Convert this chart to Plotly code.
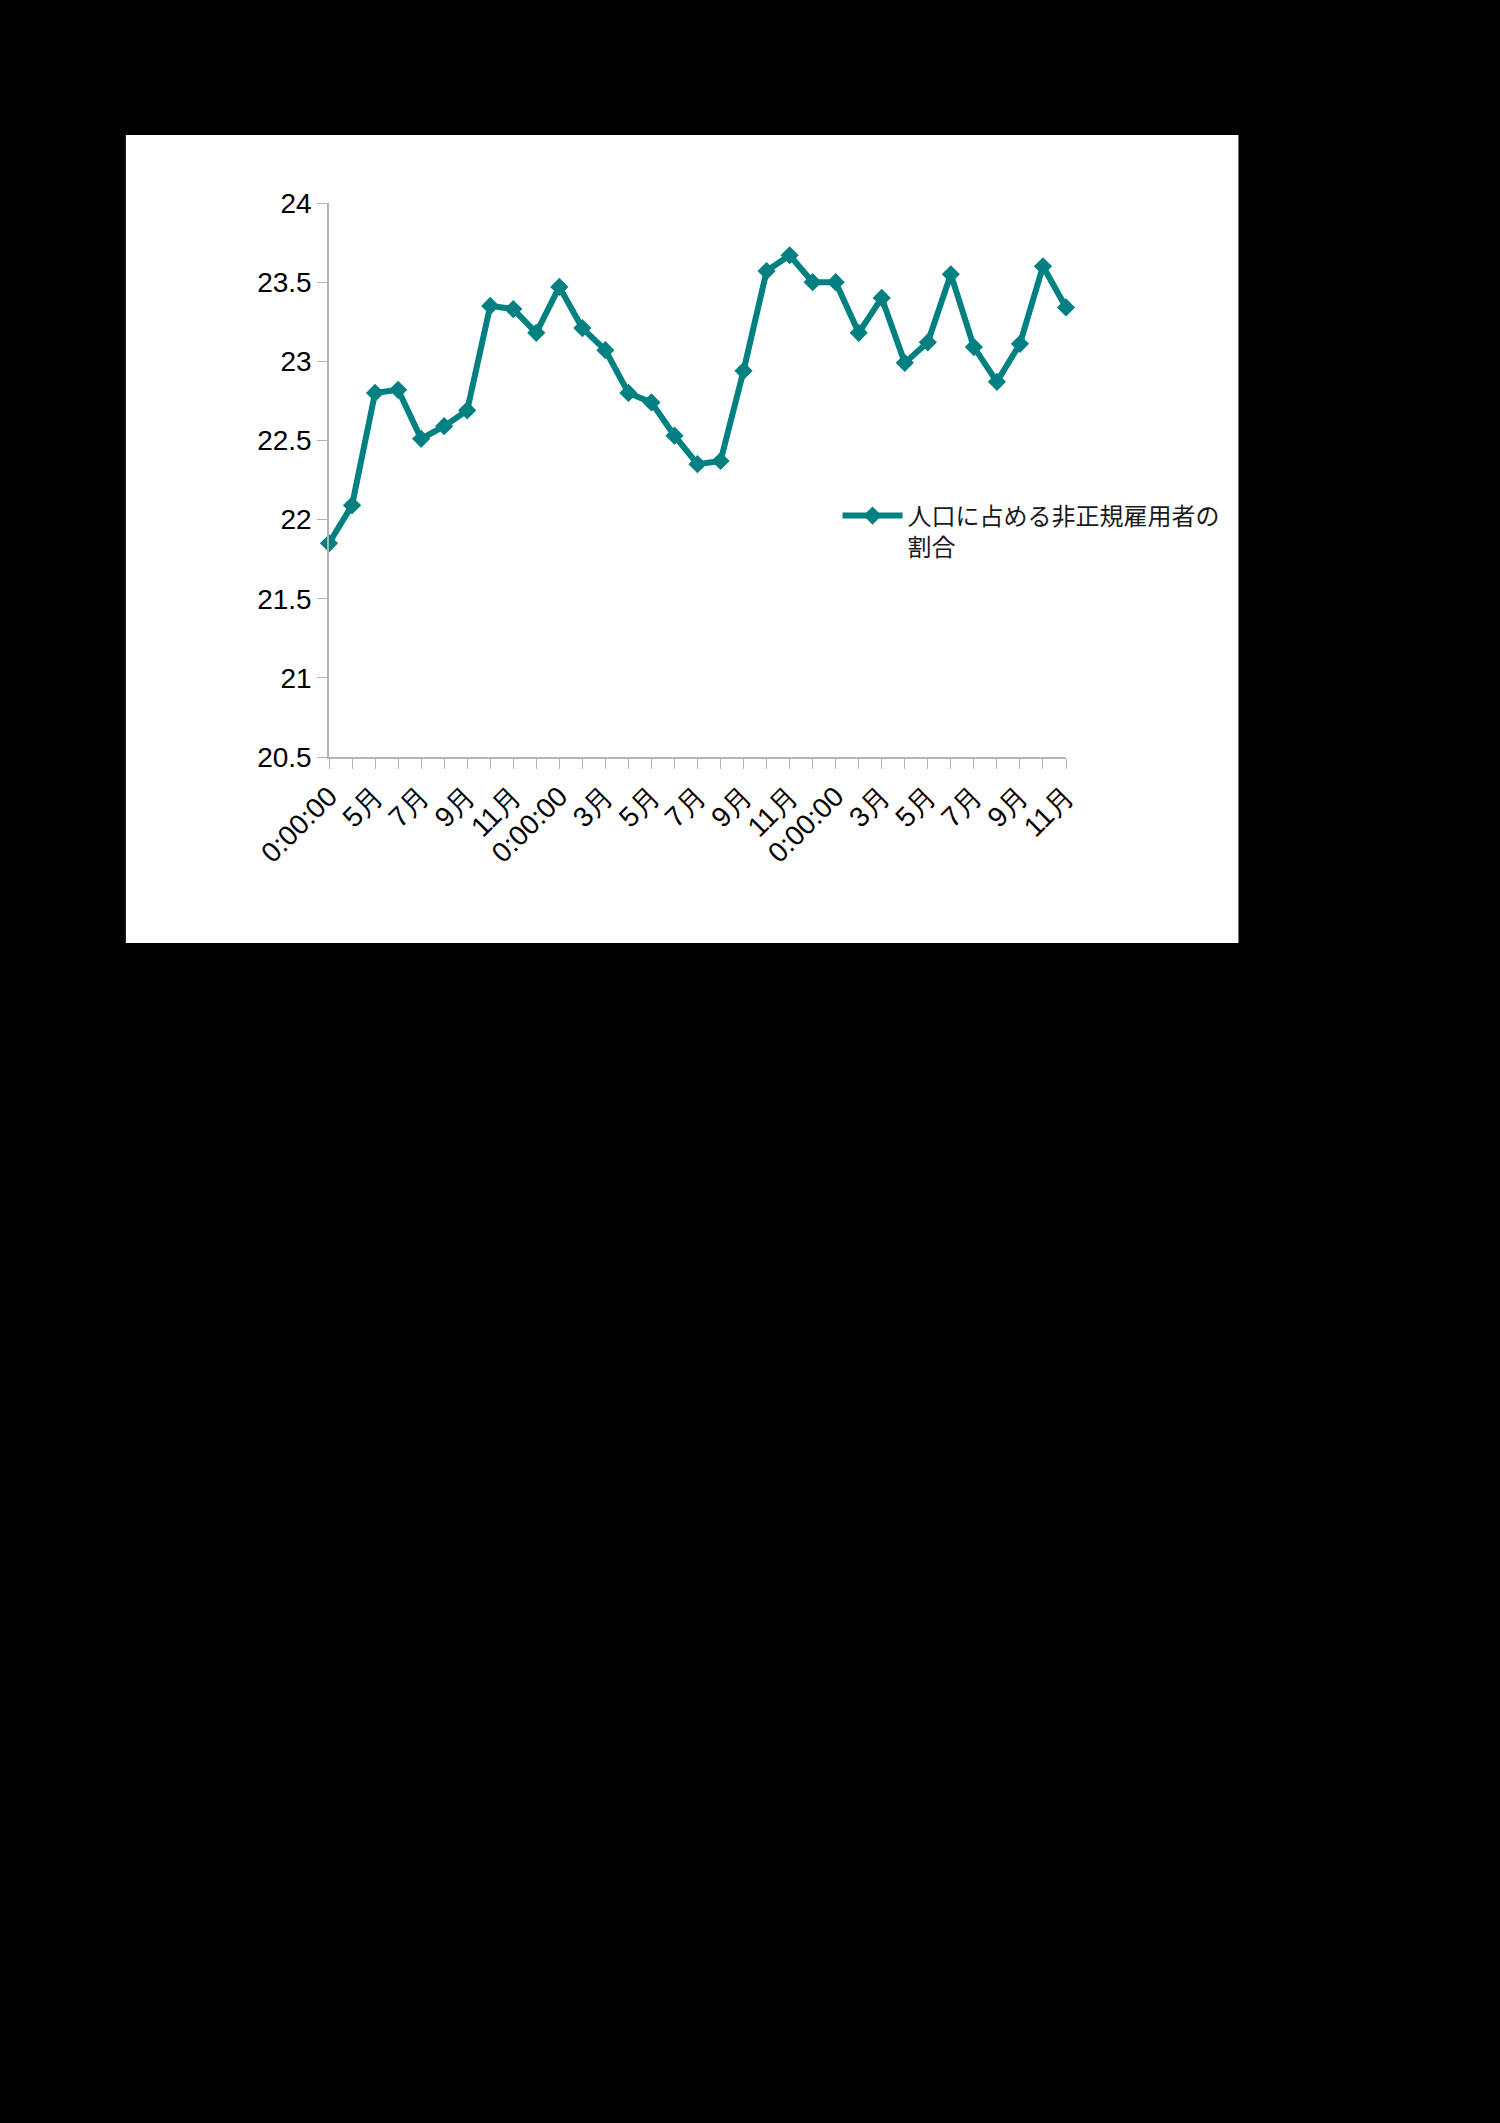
import plotly.graph_objects as go

# 33 monthly points, a label on every second one
tick_labels = ['0:00:00', '5月', '7月', '9月', '11月',
               '0:00:00', '3月', '5月', '7月', '9月', '11月',
               '0:00:00', '3月', '5月', '7月', '9月', '11月']
values = [21.85, 22.09, 22.80, 22.82, 22.51, 22.59, 22.69, 23.35, 23.33, 23.18,
          23.47, 23.21, 23.07, 22.80, 22.74, 22.53, 22.35, 22.37, 22.94, 23.57,
          23.67, 23.50, 23.50, 23.18, 23.40, 22.99, 23.12, 23.55, 23.09, 22.87,
          23.11, 23.60, 23.34]
series_name = '人口に占める非正規雇用者の<br>割合'

pos = list(range(len(values)))
teal = '#008080'
axis_grey = '#b3b3b3'

fig = go.Figure()
fig.add_trace(go.Scatter(x=pos, y=values, mode='lines+markers', name=series_name,
                         line=dict(color=teal, width=6),
                         marker=dict(symbol='diamond', size=14, color=teal),
                         cliponaxis=False))

# white chart box on the black page
fig.add_shape(type='rect', xref='paper', yref='paper', x0=-0.2756, x1=1.234, y0=-0.3357, y1=1.1227,
              fillcolor='white', line=dict(width=0), layer='below')

fig.update_layout(
    width=1500, height=2123,
    margin=dict(l=329, r=434, t=203, b=1366),
    paper_bgcolor='black', plot_bgcolor='white',
    showlegend=True,
    legend=dict(x=0.69, y=0.407, xanchor='left', yanchor='middle', valign='top',
                font=dict(family='Noto Sans CJK JP', size=24, color='#1a1a1a'),
                bgcolor='rgba(0,0,0,0)', itemwidth=60),
    font=dict(family='Liberation Sans', size=28, color='black'),
)
fig.update_xaxes(range=[0, len(values) - 1], tickmode='array', tickvals=pos[::2], ticktext=tick_labels,
                 tickangle=-45, showgrid=False, zeroline=False,
                 showline=True, linecolor=axis_grey, linewidth=1.5,
                 ticks='outside', ticklen=10, tickcolor=axis_grey,
                 minor=dict(tickmode='linear', tick0=0, dtick=1, ticks='outside', ticklen=10,
                            tickcolor=axis_grey, showgrid=False))
fig.update_yaxes(range=[20.5, 24], dtick=0.5, showgrid=False, zeroline=False,
                 showline=True, linecolor=axis_grey, linewidth=1.5,
                 ticks='outside', ticklen=10, tickcolor=axis_grey)

fig.write_html('out.html', config={'displayModeBar': False},
               post_script="document.body.style.margin='0';document.body.style.background='black';")
